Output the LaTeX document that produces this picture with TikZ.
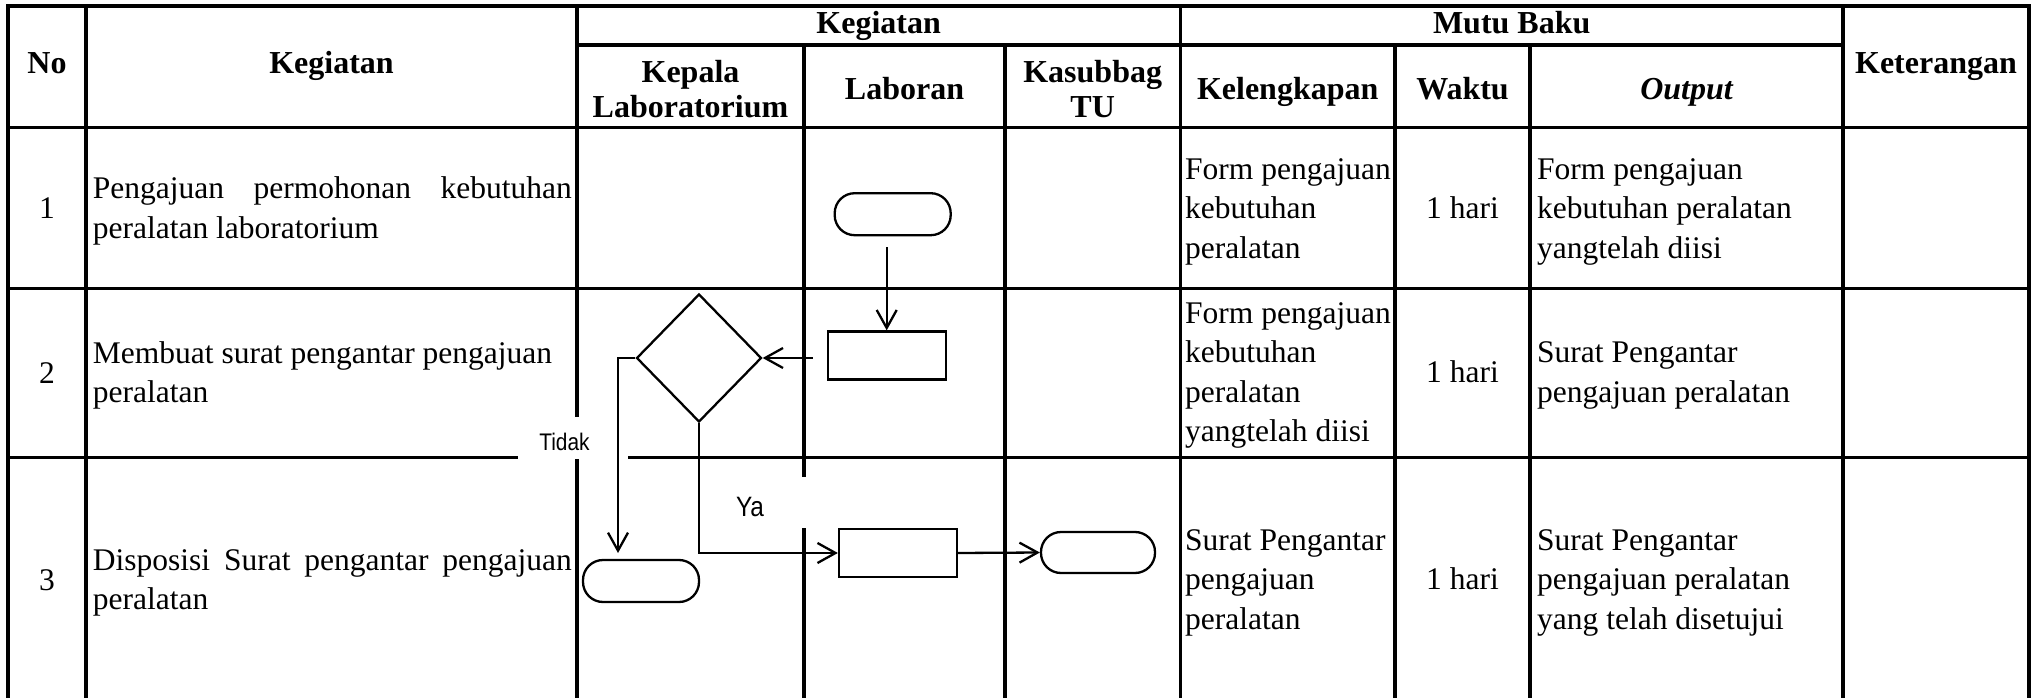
\documentclass[tikz,border=0pt]{standalone}
\usepackage{fontspec}
\setmainfont{Liberation Serif}
\newfontfamily\tsans[FakeStretch=0.87]{Liberation Sans}
\usetikzlibrary{shapes.geometric,arrows.meta}
\newcommand{\jline}[1]{\hbox to 479pt{#1}}
\tikzset{
 gridline/.style={line width=3.5pt, line cap=rect},
 hd/.style={font=\fontsize{32}{35}\selectfont\bfseries, inner sep=0pt, anchor=base},
 hdtwo/.style={font=\fontsize{32}{35}\selectfont\bfseries, inner sep=0pt, anchor=north, align=center},
 body/.style={font=\fontsize{31.5}{39.5}\selectfont, inner sep=0pt, anchor=north west, align=left},
 bodyc/.style={font=\fontsize{31.5}{39.5}\selectfont, inner sep=0pt, anchor=base},
 fl/.style={draw, line width=2.3pt},
 term/.style={fl, rectangle, rounded corners=20pt, minimum width=116pt, minimum height=42pt, inner sep=0pt},
 proc/.style={fl, rectangle, minimum width=118pt, minimum height=48pt, inner sep=0pt},
 dec/.style={fl, diamond, minimum width=125pt, minimum height=128pt, inner sep=0pt},
 arr/.style={line width=2.3pt, -{Straight Barb[length=18pt,width=20pt]}},
 lbl/.style={font=\tsans\fontsize{24}{28}\selectfont, inner sep=0pt, anchor=base},
 mask/.style={fill=white, draw=none},
}
\begin{document}
\begin{tikzpicture}[x=1pt,y=-1pt]
\useasboundingbox (0,0) rectangle (2038,698);
\fill[white] (0,0) rectangle (2038,698);
% ---------- grid ----------
\draw[gridline] (8,6) -- (2029,6);
\draw[gridline] (577,45) -- (1843,45);
\draw[gridline] (8,127.5) -- (2029,127.5);
\draw[gridline] (8,288.5) -- (2029,288.5);
\draw[gridline] (8,457.5) -- (2029,457.5);
\foreach \x in {8,86,577,1180.5,1843,2029} \draw[gridline] (\x,6) -- (\x,700);
\foreach \x in {804,1005,1395,1530} \draw[gridline] (\x,45) -- (\x,700);
% masks behind labels
\fill[mask] (518,417) rectangle (628,458.8);
\fill[mask] (706,477) rectangle (810,528);
% ---------- header ----------
\node[hd] (hkeg) at (878.7,34) {Kegiatan};
\node[hd] (hmutu) at (1511.7,34) {Mutu Baku};
\node[hd] (hno) at (47,74) {No};
\node[hd] (hkegiatan) at (331.5,74) {Kegiatan};
\node[hd] (hket) at (1936,74) {Keterangan};
\node[hdtwo] (hkepala) at (690.5,58) {\strut Kepala\\Laboratorium};
\node[hd] (hlab) at (904.5,100) {Laboran};
\node[hdtwo] (hkas) at (1092.7,58) {\strut Kasubbag\\TU};
\node[hd] (hkel) at (1287.7,100) {Kelengkapan};
\node[hd] (hwak) at (1462.5,100) {Waktu};
\node[hd] (hout) at (1686.5,100) {\itshape Output};
% ---------- row 1 ----------
\node[bodyc] (n1) at (47,218.7) {1};
\node[body] (k1) at (92.7,170.85) {\strut\jline{Pengajuan\hfil permohonan\hfil kebutuhan}\\peralatan laboratorium};
\node[body] (l1) at (1185,151.35) {\strut Form pengajuan\\kebutuhan\\peralatan};
\node[bodyc] (w1) at (1462.5,218.7) {1 hari};
\node[body] (o1) at (1537,151.35) {\strut Form pengajuan\\kebutuhan peralatan\\yangtelah diisi};
% ---------- row 2 ----------
\node[bodyc] (n2) at (47,383) {2};
\node[body] (k2) at (92.7,335.35) {\strut Membuat surat pengantar pengajuan\\peralatan};
\node[body] (l2) at (1185,295.35) {\strut Form pengajuan\\kebutuhan\\peralatan\\yangtelah diisi};
\node[bodyc] (w2) at (1462.5,382.5) {1 hari};
\node[body] (o2) at (1537,334.85) {\strut Surat Pengantar\\pengajuan peralatan};
% ---------- row 3 ----------
\node[bodyc] (n3) at (47,590) {3};
\node[body] (k3) at (92.7,542.35) {\strut\jline{Disposisi\hfil Surat\hfil pengantar\hfil pengajuan}\\peralatan};
\node[body] (l3) at (1185,522.35) {\strut Surat Pengantar\\pengajuan\\peralatan};
\node[bodyc] (w3) at (1462.5,589.5) {1 hari};
\node[body] (o3) at (1537,522.35) {\strut Surat Pengantar\\pengajuan peralatan\\yang telah disetujui};
% ---------- labels ----------
\node[lbl] (tidak) at (564.5,450.7) {Tidak};
\node[lbl, font=\tsans\fontsize{28}{32}\selectfont] (ya) at (750,516.7) {Ya};
% ---------- flowchart ----------
\node[term] (t1) at (892.7,214.2) {};
\node[proc] (r2) at (886.7,355.5) {};
\node[dec] (d) at (699,358) {};
\node[term] (t3a) at (641,581) {};
\node[proc] (r3) at (898,553) {};
\node[term, minimum width=114pt, minimum height=41pt] (t3b) at (1098,552.5) {};
\coordinate (tk) at (618,553);
\draw[arr] ([yshift=-11pt]t1.south -| r2.north) -- (r2.north);
\draw[arr] ([xshift=-14pt]r2.west |- d.east) -- (d.east);
\draw[arr] (d.west) -- (d.west -| tk) -- (tk);
\draw[arr] (d.south) |- (r3.west);
\draw[arr] (r3.east) -- (t3b.west);
\end{tikzpicture}
\end{document}
